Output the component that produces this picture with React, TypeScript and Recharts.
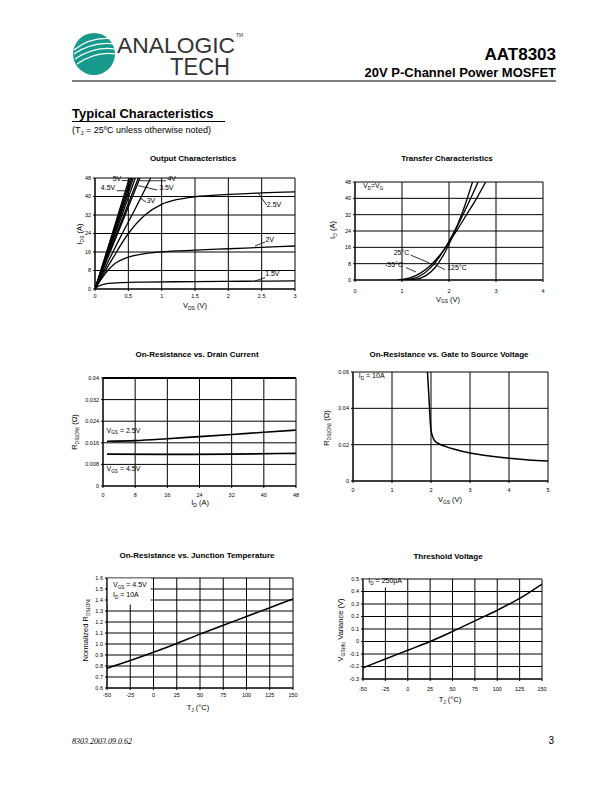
import React from 'react'
import {
  LineChart, Line, XAxis, YAxis, CartesianGrid, ReferenceLine, ReferenceDot, ReferenceArea,
} from 'recharts'

const FONT = "'Liberation Sans', Arial, Helvetica, sans-serif"

type Pt = { x: number; y: number }

// ---- Output Characteristics (ID vs VDS per VGS) ----
const outX = [0, 0.5, 1, 1.5, 2, 2.5, 3]
const outY = [0, 8, 16, 24, 32, 40, 48]
const out5V: Pt[] = [{ x: 0, y: 0 }, { x: 0.26, y: 24 }, { x: 0.515, y: 48 }]
const outUnlabeledA: Pt[] = [{ x: 0, y: 0 }, { x: 0.27, y: 24 }, { x: 0.535, y: 48 }]
const out4V5: Pt[] = [{ x: 0, y: 0 }, { x: 0.28, y: 24 }, { x: 0.555, y: 48 }]
const outUnlabeledB: Pt[] = [{ x: 0, y: 0 }, { x: 0.29, y: 24 }, { x: 0.575, y: 48 }]
const outUnlabeledC: Pt[] = [{ x: 0, y: 0 }, { x: 0.305, y: 24 }, { x: 0.605, y: 48 }]
const out4V: Pt[] = [{ x: 0, y: 0 }, { x: 0.325, y: 24 }, { x: 0.65, y: 48 }]
const out3V5: Pt[] = [{ x: 0, y: 0 }, { x: 0.34, y: 24 }, { x: 0.675, y: 48 }]
const out3V: Pt[] = [
  { x: 0, y: 0 }, { x: 0.2, y: 12 }, { x: 0.4, y: 23.5 }, { x: 0.6, y: 34.5 }, { x: 0.835, y: 48 },
]
const out2V5: Pt[] = [
  { x: 0, y: 0 }, { x: 0.125, y: 6.5 }, { x: 0.25, y: 12.5 }, { x: 0.5, y: 24 }, { x: 0.75, y: 32 },
  { x: 1, y: 36.6 }, { x: 1.25, y: 38.8 }, { x: 1.5, y: 39.9 }, { x: 2, y: 40.9 }, { x: 2.5, y: 41.6 },
  { x: 3, y: 42 },
]
const out2V: Pt[] = [
  { x: 0, y: 0 }, { x: 0.1, y: 4.5 }, { x: 0.2, y: 8.3 }, { x: 0.3, y: 11 }, { x: 0.5, y: 13.8 },
  { x: 0.75, y: 15.3 }, { x: 1, y: 16.1 }, { x: 1.5, y: 16.8 }, { x: 2, y: 17.4 }, { x: 2.5, y: 18 },
  { x: 3, y: 18.6 },
]
const out1V5: Pt[] = [
  { x: 0, y: 0 }, { x: 0.05, y: 1.2 }, { x: 0.1, y: 1.8 }, { x: 0.2, y: 2.4 }, { x: 0.4, y: 2.8 },
  { x: 0.75, y: 3 }, { x: 1.5, y: 3.2 }, { x: 2.25, y: 3.35 }, { x: 3, y: 3.5 },
]

// ---- Transfer Characteristics ----
const trX = [0, 1, 2, 3, 4]
const trY = [0, 8, 16, 24, 32, 40, 48]
const tr125: Pt[] = [
  { x: 0.9, y: 0 }, { x: 1.0, y: 0.3 }, { x: 1.2, y: 1.3 }, { x: 1.4, y: 3.5 }, { x: 1.6, y: 7 },
  { x: 1.8, y: 12 }, { x: 2.0, y: 18.5 }, { x: 2.2, y: 25.5 }, { x: 2.4, y: 33 }, { x: 2.6, y: 40.5 },
  { x: 2.78, y: 48 },
]
const tr25: Pt[] = [
  { x: 1.0, y: 0 }, { x: 1.2, y: 0.5 }, { x: 1.4, y: 2.2 }, { x: 1.6, y: 5.8 }, { x: 1.8, y: 11.5 },
  { x: 2.0, y: 19 }, { x: 2.2, y: 27.5 }, { x: 2.4, y: 37 }, { x: 2.62, y: 48 },
]
const trM55: Pt[] = [
  { x: 1.1, y: 0 }, { x: 1.3, y: 0.4 }, { x: 1.5, y: 2 }, { x: 1.7, y: 6 }, { x: 1.9, y: 13 },
  { x: 2.1, y: 22.5 }, { x: 2.3, y: 34 }, { x: 2.5, y: 48 },
]

// ---- On-Resistance vs. Drain Current ----
const rdX = [0, 8, 16, 24, 32, 40, 48]
const rdY = [0, 0.008, 0.016, 0.024, 0.032, 0.04]
const rdVgs2V5: Pt[] = [
  { x: 1, y: 0.0166 }, { x: 8, y: 0.0168 }, { x: 16, y: 0.0175 }, { x: 24, y: 0.0183 },
  { x: 32, y: 0.0191 }, { x: 40, y: 0.0199 }, { x: 48, y: 0.0207 },
]
const rdVgs4V5: Pt[] = [
  { x: 1, y: 0.0118 }, { x: 16, y: 0.0117 }, { x: 32, y: 0.0118 }, { x: 48, y: 0.0121 },
]

// ---- On-Resistance vs. Gate to Source Voltage ----
const rgX = [0, 1, 2, 3, 4, 5]
const rgY = [0, 0.02, 0.04, 0.06]
const rgCurve: Pt[] = [
  { x: 1.91, y: 0.06 }, { x: 1.95, y: 0.045 }, { x: 1.98, y: 0.033 }, { x: 2.0, y: 0.028 },
  { x: 2.05, y: 0.024 }, { x: 2.1, y: 0.022 }, { x: 2.2, y: 0.0205 }, { x: 2.4, y: 0.0188 },
  { x: 2.6, y: 0.0175 }, { x: 3, y: 0.0154 }, { x: 3.5, y: 0.0138 }, { x: 4, y: 0.0125 },
  { x: 4.5, y: 0.0116 }, { x: 5, y: 0.011 },
]

// ---- On-Resistance vs. Junction Temperature ----
const tjX = [-50, -25, 0, 25, 50, 75, 100, 125, 150]
const rtY = [0.6, 0.7, 0.8, 0.9, 1.0, 1.1, 1.2, 1.3, 1.4, 1.5, 1.6]
const rtCurve: Pt[] = [
  { x: -50, y: 0.78 }, { x: -25, y: 0.85 }, { x: 0, y: 0.925 }, { x: 25, y: 1.005 },
  { x: 50, y: 1.09 }, { x: 75, y: 1.17 }, { x: 100, y: 1.25 }, { x: 125, y: 1.33 }, { x: 150, y: 1.41 },
]

// ---- Threshold Voltage ----
const thY = [-0.3, -0.2, -0.1, 0, 0.1, 0.2, 0.3, 0.4, 0.5]
const thCurve: Pt[] = [
  { x: -50, y: -0.21 }, { x: -25, y: -0.14 }, { x: 0, y: -0.07 }, { x: 25, y: 0.0 },
  { x: 50, y: 0.08 }, { x: 75, y: 0.165 }, { x: 100, y: 0.25 }, { x: 125, y: 0.345 }, { x: 150, y: 0.46 },
]

type Box = { x0: number; y0: number; x1: number; y1: number }

const curve = (data: Pt[], key: string, type: 'monotone' | 'linear' = 'monotone', w = 1.3) => (
  <Line key={key} data={data} dataKey="y" type={type} stroke="#000" strokeWidth={w}
    dot={false} isAnimationActive={false} />
)

const seg = (key: string, x1: number, y1: number, x2: number, y2: number) => (
  <ReferenceLine key={key} segment={[{ x: x1, y: y1 }, { x: x2, y: y2 }]} stroke="#000"
    strokeWidth={0.8} ifOverflow="visible" />
)

// runs of text: a part starting with "_" is drawn as a subscript
const runs = (parts: string[], size: number) => {
  let low = false
  const sh = size * 0.22
  return parts.map((p, i) => {
    const isSub = p.startsWith('_')
    const dy = isSub && !low ? sh : !isSub && low ? -sh : 0
    low = isSub
    return (
      <tspan key={i} dy={dy} fontSize={isSub ? size * 0.66 : size}>{isSub ? p.slice(1) : p}</tspan>
    )
  })
}

// text placed in data coordinates
const note = (key: string, x: number, y: number, parts: string[],
  anchor: 'start' | 'middle' | 'end' = 'middle') => (
  <ReferenceDot key={key} x={x} y={y} r={0} ifOverflow="visible"
    shape={(p: any) => (
      <text x={p.cx} y={p.cy} dy="0.35em" textAnchor={anchor} fontSize={7} fontFamily={FONT} fill="#000">
        {runs(parts, 7)}
      </text>
    )} />
)

function Panel({ box, xDomain, xTicks, yDomain, yTicks, yFmt, xGap = 3, children }: {
  box: Box; xDomain: [number, number]; xTicks: number[]; yDomain: [number, number]; yTicks: number[];
  yFmt?: (v: number) => string; xGap?: number; children: React.ReactNode
}) {
  const padL = 34, padT = 8, padR = 10, padB = 22
  const w = box.x1 - box.x0, h = box.y1 - box.y0
  const tick = { fontSize: 5.5, fill: '#000', fontFamily: FONT }
  return (
    <div style={{ position: 'absolute', left: box.x0 - padL, top: box.y0 - padT }}>
      <LineChart width={w + padL + padR} height={h + padT + padB}
        margin={{ top: padT, right: padR, left: 0, bottom: 0 }}>
        <CartesianGrid stroke="#000" strokeWidth={1} />
        <XAxis type="number" dataKey="x" domain={xDomain} ticks={xTicks} interval={0} allowDataOverflow
          height={padB} tick={tick} tickSize={2} tickMargin={xGap}
          axisLine={{ stroke: '#000' }} tickLine={{ stroke: '#000' }} />
        <YAxis type="number" domain={yDomain} ticks={yTicks} interval={0} allowDataOverflow width={padL}
          tick={tick} tickSize={2} tickMargin={2} tickFormatter={yFmt}
          axisLine={{ stroke: '#000' }} tickLine={{ stroke: '#000' }} />
        {children}
      </LineChart>
    </div>
  )
}

const AxisLabel = ({ x, y, parts, size = 7.5, rotate = false }: {
  x: number; y: number; parts: string[]; size?: number; rotate?: boolean
}) => (
  <text transform={`translate(${x},${y})${rotate ? ' rotate(-90)' : ''}`} dy="0.35em" textAnchor="middle"
    fontSize={size} fontFamily={FONT} fill="#000">
    {runs(parts, size)}
  </text>
)

const Title = ({ x, y, text }: { x: number; y: number; text: string }) => (
  <text x={x} y={y} dy="0.35em" textAnchor="middle" fontSize={8} fontWeight="bold" fontFamily={FONT}>{text}</text>
)

export default function App() {
  return (
    <div style={{ position: 'absolute', left: 0, top: 0, width: 612, height: 792, background: '#fff', fontFamily: FONT }}>
      <svg width={612} height={792} style={{ position: 'absolute', left: 0, top: 0 }}>
        {/* logo */}
        <circle cx={94} cy={54} r={21} fill="#17998b" />
        <path d="M74,50 C86,40 100,37 115,39" stroke="#fff" strokeWidth={1.1} fill="none" />
        <path d="M74,54 C87,45 101,42 115,44" stroke="#fff" strokeWidth={1.1} fill="none" />
        <path d="M75,59 C88,50 102,47 115,49" stroke="#fff" strokeWidth={1.1} fill="none" />
        <path d="M77,64 C90,55 103,52 115,54" stroke="#fff" strokeWidth={1.1} fill="none" />
        <text x={117} y={53} fontSize={22} fill="#333" fontFamily={FONT} textLength={118} lengthAdjust="spacingAndGlyphs">ANALOGIC</text>
        <text x={170} y={75} fontSize={23} fill="#333" fontFamily={FONT} textLength={60} lengthAdjust="spacingAndGlyphs">TECH</text>
        <text x={236} y={37} fontSize={5} fill="#333" fontFamily={FONT}>TM</text>
        <text x={556} y={60} textAnchor="end" fontSize={17} fontWeight="bold" fontFamily={FONT}>AAT8303</text>
        <text x={556} y={76.5} textAnchor="end" fontSize={13} fontWeight="bold" fontFamily={FONT}>20V P-Channel Power MOSFET</text>
        <rect x={72} y={80.5} width={484} height={1} fill="#000" />
        <text x={72} y={118} fontSize={13} fontWeight="bold" fontFamily={FONT}>Typical Characteristics</text>
        <rect x={72} y={121} width={153} height={1} fill="#000" />
        <text x={72} y={133} fontSize={9} fontFamily={FONT}>
          <tspan>(T</tspan><tspan fontSize={6} dy={2}>J</tspan><tspan dy={-2}> = 25ºC unless otherwise noted)</tspan>
        </text>

        <Title x={193} y={158} text="Output Characteristics" />
        <Title x={447} y={158} text="Transfer Characteristics" />
        <Title x={197} y={354} text="On-Resistance vs. Drain Current" />
        <Title x={449} y={354} text="On-Resistance vs. Gate to Source Voltage" />
        <Title x={197} y={555} text="On-Resistance vs. Junction Temperature" />
        <Title x={448} y={556} text="Threshold Voltage" />

        <AxisLabel x={195} y={308} parts={['V', '_DS', ' (V)']} />
        <AxisLabel x={82} y={234} parts={['I', '_DS', ' (A)']} rotate />
        <AxisLabel x={448} y={301.5} parts={['V', '_GS', ' (V)']} />
        <AxisLabel x={335} y={230} parts={['I', '_D', ' (A)']} rotate />
        <AxisLabel x={200} y={505} parts={['I', '_D', ' (A)']} />
        <AxisLabel x={77} y={432} parts={['R', '_DS(ON)', ' (Ω)']} rotate />
        <AxisLabel x={450} y={502} parts={['V', '_GS', ' (V)']} />
        <AxisLabel x={329} y={428} parts={['R', '_DS(ON)', ' (Ω)']} rotate />
        <AxisLabel x={198} y={710} parts={['T', '_J', ' (°C)']} />
        <AxisLabel x={88} y={630} parts={['Normalized R', '_DS(ON)']} rotate />
        <AxisLabel x={450} y={702} parts={['T', '_J', ' (°C)']} />
        <AxisLabel x={343} y={630} parts={['V', '_GS(th)', ' Variance (V)']} rotate />

        <text x={72} y={744} fontSize={8} fontStyle="italic" fontFamily="'Liberation Serif', 'Times New Roman', serif">8303.2003.09.0.62</text>
        <text x={554} y={744} textAnchor="end" fontSize={10} fontFamily={FONT}>3</text>
      </svg>

      <Panel box={{ x0: 95, y0: 178, x1: 295, y1: 289 }} xDomain={[0, 3]} xTicks={outX} yDomain={[0, 48]} yTicks={outY}>
        {[
          curve(out5V, 'c5', 'linear'), curve(outUnlabeledA, 'ca', 'linear'), curve(out4V5, 'c45', 'linear'),
          curve(outUnlabeledB, 'cb', 'linear'), curve(outUnlabeledC, 'cc', 'linear'), curve(out4V, 'c4', 'linear'),
          curve(out3V5, 'c35', 'linear'), curve(out3V, 'c3'), curve(out2V5, 'c25'), curve(out2V, 'c2'),
          curve(out1V5, 'c15'),
          seg('l5', 0.4, 46.9, 0.5, 46.9), note('t5', 0.33, 46.9, ['5V']),
          seg('l4', 0.675, 46.8, 1.065, 46.8), note('t4', 1.15, 46.8, ['4V']),
          seg('l45', 0.325, 42.5, 0.5, 42.5), note('t45', 0.195, 42.6, ['4.5V']),
          seg('l35', 0.65, 44.7, 0.935, 42.8), note('t35', 1.07, 42.6, ['3.5V']),
          seg('l3', 0.685, 39.2, 0.765, 37.6), note('t3', 0.84, 37.2, ['3V']),
          seg('l25', 2.45, 41.4, 2.575, 36.3), note('t25', 2.685, 35.5, ['2.5V']),
          seg('l2', 2.4, 18.6, 2.55, 20.3), note('t2', 2.62, 20.5, ['2V']),
          seg('l15', 2.4, 3.5, 2.55, 4.9), note('t15', 2.66, 5.6, ['1.5V']),
        ]}
      </Panel>

      <Panel box={{ x0: 355, y0: 182, x1: 543, y1: 280 }} xDomain={[0, 4]} xTicks={trX} yDomain={[0, 48]} yTicks={trY} xGap={7}>
        {[
          curve(tr125, 't125'), curve(tr25, 't25'), curve(trM55, 'tm55'),
          note('vd', 0.17, 45, ['V', '_D', '=V', '_G'], 'start'),
          seg('l25', 1.185, 12.2, 1.58, 8.4), note('n25', 0.99, 12.2, ['25°C']),
          seg('lm55', 1.085, 6.1, 1.3, 3.9), note('nm55', 0.83, 6.2, ['-55°C']),
          seg('l125', 1.65, 8.1, 1.915, 5.1), note('n125', 2.17, 4.8, ['125°C']),
        ]}
      </Panel>

      <Panel box={{ x0: 103, y0: 378, x1: 296, y1: 486 }} xDomain={[0, 48]} xTicks={rdX} yDomain={[0, 0.04]} yTicks={rdY} xGap={4.6}>
        {[
          <ReferenceLine key="top" y={0.04} stroke="#000" strokeWidth={2} />,
          curve(rdVgs2V5, 'r25', 'monotone', 1.6), curve(rdVgs4V5, 'r45', 'monotone', 1.6),
          note('n25', 0.9, 0.0198, ['V', '_GS', ' = 2.5V'], 'start'),
          note('n45', 0.9, 0.0055, ['V', '_GS', ' = 4.5V'], 'start'),
        ]}
      </Panel>

      <Panel box={{ x0: 353, y0: 372, x1: 548, y1: 481 }} xDomain={[0, 5]} xTicks={rgX} yDomain={[0, 0.06]} yTicks={rgY} xGap={5}>
        {[
          curve(rgCurve, 'rg', 'monotone', 1.5),
          note('id', 0.15, 0.0565, ['I', '_D', ' = 10A'], 'start'),
        ]}
      </Panel>

      <Panel box={{ x0: 107, y0: 578, x1: 293, y1: 688 }} xDomain={[-50, 150]} xTicks={tjX} yDomain={[0.6, 1.6]} yTicks={rtY}
        yFmt={(v) => v.toFixed(1)} xGap={3.3}>
        {[
          <ReferenceArea key="box" x1={-49.5} x2={-3} y1={1.36} y2={1.595} fill="#fff" fillOpacity={1} stroke="none" />,
          curve(rtCurve, 'rt', 'monotone', 1.5),
          note('vgs', -43.5, 1.514, ['V', '_GS', ' = 4.5V'], 'start'),
          note('id', -43.5, 1.426, ['I', '_D', ' = 10A'], 'start'),
        ]}
      </Panel>

      <Panel box={{ x0: 363, y0: 579, x1: 542, y1: 679 }} xDomain={[-50, 150]} xTicks={tjX} yDomain={[-0.3, 0.5]} yTicks={thY} xGap={6}>
        {[
          <ReferenceArea key="box" x1={-49.5} x2={-5} y1={0.433} y2={0.495} fill="#fff" fillOpacity={1} stroke="none" />,
          curve(thCurve, 'th', 'monotone', 1.5),
          note('id', -44, 0.467, ['I', '_D', ' = 250µA'], 'start'),
        ]}
      </Panel>
    </div>
  )
}
